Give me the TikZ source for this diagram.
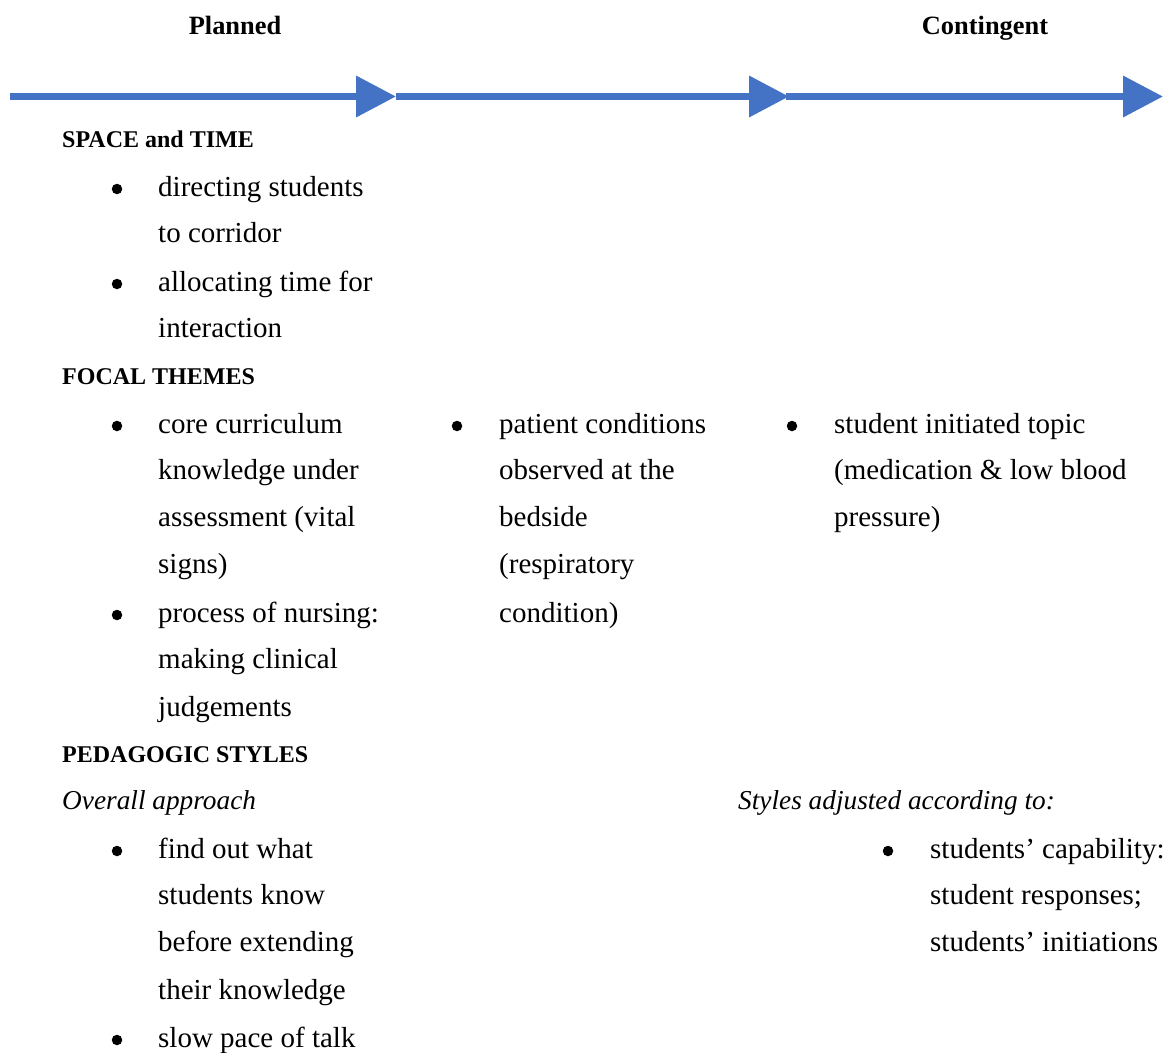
\documentclass[tikz,border=0pt]{standalone}
\usepackage{fontspec}
\setmainfont{Liberation Serif}
\usetikzlibrary{arrows.meta}
\definecolor{arrowblue}{HTML}{4472C4}
\begin{document}
\begin{tikzpicture}[x=1pt,y=-1pt,
  txt/.style={anchor=base west, inner sep=0pt, font=\fontsize{29}{34}\selectfont},
  sect/.style={anchor=base west, inner sep=0pt, font=\fontsize{24}{30}\selectfont\bfseries},
  ital/.style={anchor=base west, inner sep=0pt, font=\fontsize{27.3}{33}\selectfont\itshape},
  ttl/.style={anchor=base, inner sep=0pt, font=\fontsize{26.4}{30}\selectfont\bfseries},
  bdot/.style={circle, fill, inner sep=0pt, minimum size=10.5pt},
  flow/.style={line width=7pt, arrowblue, -{Triangle[length=40pt,width=40pt]}}]
\useasboundingbox (0,0) rectangle (1171,1053);
% titles
\node[ttl] (planned) at (235,34){Planned};
\node[ttl] (contingent) at (985,34){Contingent};
% arrows
\coordinate (a0) at (10,96.5);
\coordinate (a1) at (396,96.5);
\coordinate (a2) at (789,96.5);
\coordinate (a3) at (1163,96.5);
\draw[flow] (a0) -- (a1);
\draw[flow] (a1) -- (a2);
\draw[flow] ([xshift=-3pt]a2) -- (a3);
% space and time
\node[sect] (space) at (62,147.5){SPACE and TIME};
\node[bdot] (sdot1) at (117,189){};
\node[txt] (s1) at (158,196.5){directing students};
\node[txt] (s2) at (158,242.5){to corridor};
\node[bdot] (sdot2) at (117,284){};
\node[txt] (s3) at (158,291.5){allocating time for};
\node[txt] (s4) at (158,337.5){interaction};
% focal themes
\node[sect] (focal) at (62,384.5){FOCAL THEMES};
\node[bdot] (fdot1) at (117,426){};
\node[txt] (f1) at (158,433.5){core curriculum};
\node[txt] (f2) at (158,479.5){knowledge under};
\node[txt] (f3) at (158,526.5){assessment (vital};
\node[txt] (f4) at (158,573.5){signs)};
\node[bdot] (fdot2) at (117,615){};
\node[txt] (f5) at (158,622.5){process of nursing:};
\node[txt] (f6) at (158,668.5){making clinical};
\node[txt] (f7) at (158,716.5){judgements};
\node[bdot] (mdot1) at (457,426){};
\node[txt] (m1) at (499,433.5){patient conditions};
\node[txt] (m2) at (499,479.5){observed at the};
\node[txt] (m3) at (499,526.5){bedside};
\node[txt] (m4) at (499,573.5){(respiratory};
\node[txt] (m5) at (499,622.5){condition)};
\node[bdot] (cdot1) at (792,426){};
\node[txt] (c1) at (834,433.5){student initiated topic};
\node[txt] (c2) at (834,479.5){(medication \& low blood};
\node[txt] (c3) at (834,526.5){pressure)};
% pedagogic styles
\node[sect] (peda) at (62,762.5){PEDAGOGIC STYLES};
\node[ital] (overall) at (62,809.5){Overall approach};
\node[bdot] (pdot1) at (117,851){};
\node[txt] (p1) at (158,858.5){find out what};
\node[txt] (p2) at (158,904.5){students know};
\node[txt] (p3) at (158,951.5){before extending};
\node[txt] (p4) at (158,999.5){their knowledge};
\node[bdot] (pdot2) at (117,1040){};
\node[txt] (p5) at (158,1047.5){slow pace of talk};
\node[ital] (adjust) at (738,809.5){Styles adjusted according to:};
\node[bdot] (adot1) at (888,851){};
\node[txt] (r1) at (930,858.5){students’ capability:};
\node[txt] (r2) at (930,904.5){student responses;};
\node[txt] (r3) at (930,951.5){students’ initiations};
\end{tikzpicture}
\end{document}
